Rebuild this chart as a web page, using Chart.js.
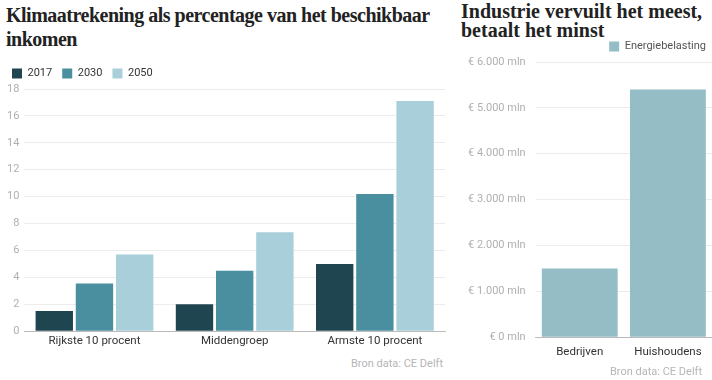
<!DOCTYPE html>
<html>
<head>
<meta charset="utf-8">
<script src="https://cdn.jsdelivr.net/npm/chart.js@4"></script>
<style>
  body { margin: 0; background: #fff; width: 712px; height: 380px; position: relative; overflow: hidden; }
  .title { position: absolute; font-family: "Liberation Serif", serif; font-weight: bold; color: #222; font-size: 20px; }
  .src { position: absolute; font-family: Roboto, sans-serif; font-size: 11px; color: #b5b5b5; white-space: nowrap; }
  .box { position: absolute; }
</style>
</head>
<body>
<div class="title" style="left:6px; top:3px; width:440px; line-height:24px; letter-spacing:-0.5px;">Klimaatrekening als percentage van het beschikbaar inkomen</div>
<div class="box" style="left:0; top:58px; width:450px; height:293px;"><canvas id="left"></canvas></div>
<div class="src" style="left:300px; top:357px; width:143px; text-align:right;">Bron data: CE Delft</div>

<div class="title" style="left:461px; top:2px; width:250px; line-height:19px; letter-spacing:0px;">Industrie vervuilt het meest, betaalt het minst</div>
<div class="box" style="left:455px; top:35px; width:257px; height:332px;"><canvas id="right"></canvas></div>
<div class="src" style="left:580px; top:365px; width:122px; text-align:right;">Bron data: CE Delft</div>

<script>
const groups = ["Rijkste 10 procent", "Middengroep", "Armste 10 procent"];
const years = ["2017", "2030", "2050"];
const share2017 = [1.5, 2.0, 5.0];
const share2030 = [3.55, 4.5, 10.2];
const share2050 = [5.7, 7.35, 17.1];
const leftTicks = [0, 2, 4, 6, 8, 10, 12, 14, 16, 18];

const payers = ["Bedrijven", "Huishoudens"];
const energieBelasting = [1500, 5400];
const rightTicks = [0, 1000, 2000, 3000, 4000, 5000, 6000];

const yearColors = ['#1f4550', '#4a8fa0', '#a9cfda'];
const tickFont = { family: 'Roboto', size: 11 };

new Chart(document.getElementById('left'), {
  type: 'bar',
  data: {
    labels: groups,
    datasets: [share2017, share2030, share2050].map((d, i) => ({
      label: years[i],
      data: d,
      backgroundColor: yearColors[i],
      categoryPercentage: 0.86,
      barPercentage: 0.93
    }))
  },
  options: {
    responsive: true,
    maintainAspectRatio: false,
    animation: false,
    layout: { padding: { left: 2, right: 5 } },
    plugins: {
      legend: {
        align: 'start',
        labels: { boxWidth: 10, boxHeight: 10, padding: 10, color: '#333', font: tickFont }
      },
      tooltip: { enabled: false }
    },
    scales: {
      x: {
        grid: { display: false, drawTicks: false },
        border: { color: '#bbb' },
        ticks: { color: '#333', font: { family: 'Roboto', size: 11.5 }, padding: 3 }
      },
      y: {
        min: 0, max: 18,
        afterBuildTicks: (ax) => { ax.ticks = leftTicks.map(v => ({ value: v })); },
        grid: { color: '#ececec', drawTicks: false },
        border: { display: false },
        ticks: { color: '#b0b0b0', font: tickFont, padding: 5 }
      }
    }
  }
});

new Chart(document.getElementById('right'), {
  type: 'bar',
  data: {
    labels: payers,
    datasets: [{
      label: 'Energiebelasting',
      data: energieBelasting,
      backgroundColor: '#94bdc6',
      categoryPercentage: 0.86,
      barPercentage: 1
    }]
  },
  options: {
    responsive: true,
    maintainAspectRatio: false,
    animation: false,
    layout: { padding: { left: 3, right: 0 } },
    plugins: {
      legend: {
        align: 'end',
        labels: { boxWidth: 10, boxHeight: 10, padding: 6, color: '#555', font: tickFont }
      },
      tooltip: { enabled: false }
    },
    scales: {
      x: {
        grid: { display: false, drawTicks: false },
        border: { color: '#bbb' },
        ticks: { color: '#333', font: { family: 'Roboto', size: 11.5 }, padding: 8 }
      },
      y: {
        min: 0, max: 6000,
        afterBuildTicks: (ax) => { ax.ticks = rightTicks.map(v => ({ value: v })); },
        grid: { color: '#ececec', drawTicks: false },
        border: { display: false },
        ticks: {
          color: '#b0b0b0', font: tickFont, padding: 10,
          callback: (v) => '€ ' + v.toLocaleString('nl-NL') + ' mln'
        }
      }
    }
  }
});
</script>
</body>
</html>
